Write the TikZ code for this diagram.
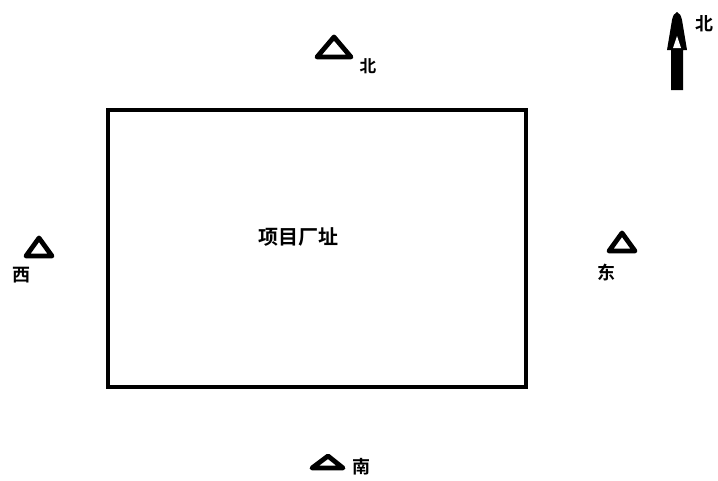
\documentclass[tikz,border=0pt]{standalone}
\usepackage{fontspec}
\newfontfamily\cjk{Noto Sans CJK SC}[BoldFont={Noto Sans CJK SC Bold}]
\begin{document}
\begin{tikzpicture}[x=0.75pt,y=-0.75pt,
  lbl/.style={font=\cjk\bfseries\fontsize{13.5}{13.5}\selectfont, inner sep=0pt},
  marker/.style={draw=black, line width=3.6pt, line join=round}]
\useasboundingbox (0,0) rectangle (718,480);
\fill[white] (0,0) rectangle (718,480);
% site
\node[draw=black, line width=3pt, minimum width=418*0.75pt, minimum height=277*0.75pt, inner sep=0pt] (site) at (317,248.5) {};
\node[lbl, font=\cjk\bfseries\fontsize{15}{15}\selectfont] (sitelbl) at (298,237) {项目厂址};
% markers
\draw[marker] (334,37) -- (351,57) -- (317,57) -- cycle;
\node[lbl, font=\cjk\bfseries\fontsize{12.5}{12.5}\selectfont] (n) at (368,66) {北};
\draw[marker] (39,238) -- (52,256) -- (26,256) -- cycle;
\node[lbl] (w) at (21.5,275.5) {西};
\draw[marker] (622,233) -- (635,251) -- (609,251) -- cycle;
\node[lbl] (e) at (606,272) {东};
\draw[marker] (328,456) -- (343,468) -- (312,468) -- cycle;
\node[lbl] (s) at (361,467) {南};
% north arrow
\fill[black] (677,12) .. controls (680,13) and (681,16) .. (682,20)
  -- (686,44) -- (687,50) -- (683,50) -- (683,90) -- (671,90) -- (671,50)
  -- (667,50) -- (668,44) -- (672,20) .. controls (673,16) and (674,13) .. (677,12) -- cycle;
\fill[white] (677,36) -- (681,48) -- (673,48) -- cycle;
\node[lbl] (na) at (704,24) {北};
\end{tikzpicture}
\end{document}
